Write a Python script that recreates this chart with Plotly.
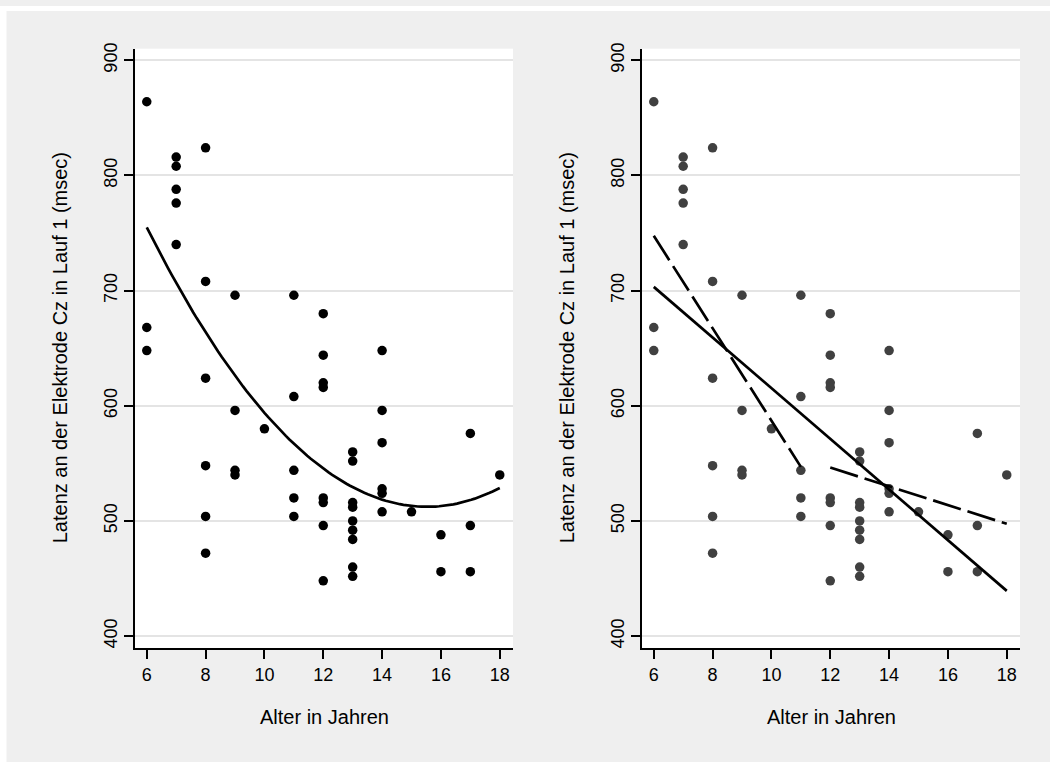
import numpy as np
import plotly.graph_objects as go

# ---- data ----
age = [6, 6, 6,
       7, 7, 7, 7, 7,
       8, 8, 8, 8, 8, 8,
       9, 9, 9, 9,
       10,
       11, 11, 11, 11, 11,
       12, 12, 12, 12, 12, 12, 12, 12,
       13, 13, 13, 13, 13, 13, 13, 13, 13,
       14, 14, 14, 14, 14, 14,
       15,
       16, 16,
       17, 17, 17,
       18]
latency = [864, 668, 648,
           816, 808, 788, 776, 740,
           824, 708, 624, 548, 504, 472,
           696, 596, 544, 540,
           580,
           696, 608, 544, 520, 504,
           680, 644, 620, 616, 520, 516, 496, 448,
           560, 552, 516, 512, 500, 492, 484, 460, 452,
           648, 596, 568, 528, 524, 508,
           508,
           488, 456,
           576, 496, 456,
           540]
x_ticks = [6, 8, 10, 12, 14, 16, 18]
y_ticks = [400, 500, 600, 700, 800, 900]
x_title = "Alter in Jahren"
y_title = "Latenz an der Elektrode Cz in Lauf 1 (msec)"
split_age = 11  # group 1: age <= 11, group 2: age >= 12

# ---- fits (regressions computed from the data, as in the original) ----
a = np.array(age, dtype=float)
l = np.array(latency, dtype=float)
xq = np.linspace(a.min(), a.max(), 100)
qfit = np.polyval(np.polyfit(a, l, 2), xq)
lin_all = np.polyfit(a, l, 1)
m1 = a <= split_age
m2 = a > split_age
lin1 = np.polyfit(a[m1], l[m1], 1)
lin2 = np.polyfit(a[m2], l[m2], 1)
x_all = [a.min(), a.max()]
x_g1 = [a[m1].min(), a[m1].max()]
x_g2 = [a[m2].min(), a[m2].max()]

W, H = 1050, 762
BG = "#efefef"
GRID = "#e4e4e4"
FONT = "Liberation Sans, Arial, sans-serif"
MS = 9.5
LW = 2.7

fig = go.Figure()

# left panel
fig.add_trace(go.Scatter(x=age, y=latency, mode="markers",
                         marker=dict(color="black", size=MS),
                         xaxis="x", yaxis="y", showlegend=False))
fig.add_trace(go.Scatter(x=xq, y=qfit, mode="lines",
                         line=dict(color="black", width=LW),
                         xaxis="x", yaxis="y", showlegend=False))
# right panel
fig.add_trace(go.Scatter(x=age, y=latency, mode="markers",
                         marker=dict(color="#404040", size=MS),
                         xaxis="x2", yaxis="y2", showlegend=False))
fig.add_trace(go.Scatter(x=x_all, y=np.polyval(lin_all, x_all), mode="lines",
                         line=dict(color="black", width=LW),
                         xaxis="x2", yaxis="y2", showlegend=False))
fig.add_trace(go.Scatter(x=x_g1, y=np.polyval(lin1, x_g1), mode="lines",
                         line=dict(color="black", width=LW, dash="29px,7px"),
                         xaxis="x2", yaxis="y2", showlegend=False))
fig.add_trace(go.Scatter(x=x_g2, y=np.polyval(lin2, x_g2), mode="lines",
                         line=dict(color="black", width=LW, dash="29px,7px"),
                         xaxis="x2", yaxis="y2", showlegend=False))

ydom = [1 - 647 / H, 1 - 43 / H]
xd1 = [135 / W, 513 / W]
xd2 = [642 / W, 1020 / W]

xax = dict(range=[5.6, 18.45], tickvals=x_ticks, ticks="outside", ticklen=9,
           tickwidth=1.6, tickcolor="black", showline=True, linecolor="black",
           linewidth=2, showgrid=False, zeroline=False,
           tickfont=dict(family=FONT, size=18, color="black"))
yax = dict(range=[389.8, 910.1], tickvals=y_ticks, ticks="outside", ticklen=9,
           tickwidth=1.6, tickcolor="black", showline=True, linecolor="black",
           linewidth=2, showgrid=True, gridcolor=GRID, gridwidth=1.5,
           zeroline=False, tickangle=-90,
           tickfont=dict(family=FONT, size=18, color="black"))

fig.update_layout(
    width=W, height=H,
    margin=dict(l=0, r=0, t=0, b=0),
    paper_bgcolor=BG, plot_bgcolor="white",
    xaxis=dict(domain=xd1, anchor="y", **xax),
    yaxis=dict(domain=ydom, anchor="x", **yax),
    xaxis2=dict(domain=xd2, anchor="y2", **xax),
    yaxis2=dict(domain=ydom, anchor="x2", **yax),
    shapes=[
        dict(type="rect", xref="paper", yref="paper", x0=0, x1=6.5 / W, y0=0, y1=1,
             fillcolor="white", line=dict(width=0), layer="above"),
        dict(type="rect", xref="paper", yref="paper", x0=0, x1=1, y0=1 - 5 / H, y1=1,
             fillcolor="white", line=dict(width=0), layer="above"),
    ],
    annotations=[
        dict(text=y_title, xref="paper", yref="paper", x=60 / W, y=1 - 345 / H,
             textangle=-90, showarrow=False, xanchor="center", yanchor="middle",
             font=dict(family=FONT, size=20, color="black")),
        dict(text=y_title, xref="paper", yref="paper", x=567 / W, y=1 - 345 / H,
             textangle=-90, showarrow=False, xanchor="center", yanchor="middle",
             font=dict(family=FONT, size=20, color="black")),
        dict(text=x_title, xref="paper", yref="paper", x=324 / W, y=1 - 717 / H,
             showarrow=False, xanchor="center", yanchor="middle",
             font=dict(family=FONT, size=20, color="black")),
        dict(text=x_title, xref="paper", yref="paper", x=831 / W, y=1 - 717 / H,
             showarrow=False, xanchor="center", yanchor="middle",
             font=dict(family=FONT, size=20, color="black")),
    ],
)

fig.write_html("out.html")
